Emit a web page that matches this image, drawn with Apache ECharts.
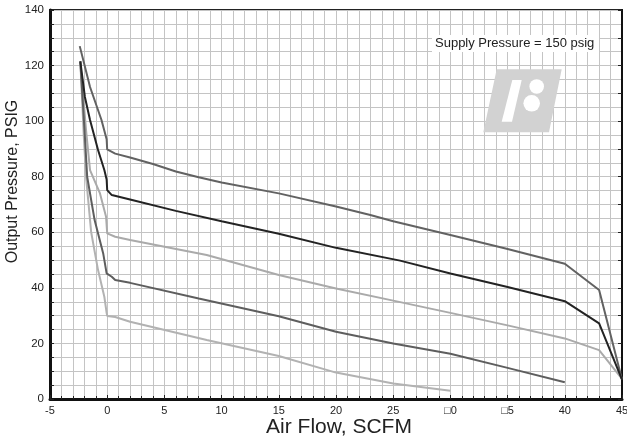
<!DOCTYPE html>
<html>
<head>
<meta charset="utf-8">
<script src="https://cdn.jsdelivr.net/npm/echarts@6/dist/echarts.min.js"></script>
<style>html,body{margin:0;padding:0;background:#fff;}#c{width:627px;height:440px;}</style>
</head>
<body>
<div id="c"></div>
<script>
// Tick labels (as printed in the reference)
var xTickValues = [-5, 0, 5, 10, 15, 20, 25, 30, 35, 40, 45];
var xTickLabels = ['-5', '0', '5', '10', '15', '20', '25', '\u25A10', '\u25A15', '40', '45'];
var yTickLabels = ['0', '20', '40', '60', '80', '100', '120', '140'];

// Curves: [air flow SCFM, output pressure PSIG]
var curve90 = [[-2.4,127],[-1.5,112.3],[-0.5,100.4],[-0.05,93.5],[0,89.8],[0.7,88.3],[2,86.9],[4,84.6],[6,81.9],[8,79.8],[10,77.9],[15,74],[20,69.3],[23,66.2],[25,64],[30,59],[35,54],[40,48.7],[43,39.2],[45,7]];
var curve75 = [[-2.35,121.5],[-1.95,108.7],[-1.5,100.4],[-0.8,89.6],[-0.25,82.4],[-0.05,79],[0,75.2],[0.4,73.4],[2,71.8],[6,67.7],[10,64],[15,59.5],[20,54.4],[25.6,49.8],[30,45.2],[35,40.3],[40,35.2],[43,27.2],[45,7]];
var curve60 = [[-2.35,121.5],[-1.85,96.8],[-1.5,82.4],[-0.63,74],[-0.1,65.6],[0,59.6],[0.7,58.4],[2,57.2],[8.7,51.8],[15,44.6],[20,39.8],[25,35.4],[30,31],[35,26.5],[40,21.8],[43,17.6],[45,7.2]];
var curve45 = [[-2.35,121.5],[-2.0,98],[-1.75,80],[-1.1,64.4],[-0.35,52.4],[-0.05,45.2],[0,44.6],[0.4,44],[0.7,42.8],[2,41.8],[8,36.2],[15,29.8],[20,24.2],[25,20],[30,16.3],[35,11.2],[40,6]];
var curve30 = [[-2.35,121.5],[-2.05,95],[-1.85,80],[-1.4,60],[-0.8,46.4],[-0.25,36.8],[-0.05,31],[0,29.9],[0.7,29.5],[2,27.8],[8.7,21.2],[15,15.5],[20,9.5],[25,5.6],[30,3]];

var chart = echarts.init(document.getElementById('c'), null, {renderer: 'canvas'});
var fontFam = '"Liberation Sans", Arial, sans-serif';

function line(name, data, color, z) {
  return {
    name: name, type: 'line', data: data, showSymbol: false, symbol: 'none',
    lineStyle: {color: color, width: 2}, z: z, silent: true, animation: false
  };
}

chart.setOption({
  animation: false,
  grid: {left: 50, right: 5, top: 10, bottom: 41, containLabel: false, outerBoundsMode: 'none',
         show: true, borderColor: '#222', borderWidth: 2, backgroundColor: 'transparent'},
  xAxis: [{
    type: 'value', min: -5, max: 45, interval: 5,
    axisLine: {show: true, onZero: false, lineStyle: {color: '#111', width: 3}},
    axisTick: {show: true, inside: true, length: 4, lineStyle: {color: '#222'}},
    minorTick: {show: true, splitNumber: 5, length: 3, lineStyle: {color: '#222'}},
    splitLine: {show: true, lineStyle: {color: '#c4c4c4', width: 1}},
    minorSplitLine: {show: true, lineStyle: {color: '#c4c4c4', width: 1}},
    axisLabel: {
      color: '#222', fontSize: 11, fontFamily: fontFam, margin: 6, hideOverlap: false,
      formatter: function (v) { var i = xTickValues.indexOf(v); return i >= 0 ? xTickLabels[i] : ''; }
    }
  }],
  yAxis: [{
    type: 'value', min: 0, max: 140, interval: 20,
    axisLine: {show: true, onZero: false, lineStyle: {color: '#111', width: 3}},
    axisTick: {show: true, inside: true, length: 4, lineStyle: {color: '#222'}},
    minorTick: {show: true, splitNumber: 4, length: 4, lineStyle: {color: '#222'}},
    splitLine: {show: true, lineStyle: {color: '#c4c4c4', width: 1}},
    minorSplitLine: {show: true, lineStyle: {color: '#c4c4c4', width: 1}},
    axisLabel: {
      color: '#222', fontSize: 11.5, fontFamily: fontFam, margin: 6,
      formatter: function (v) { return yTickLabels[Math.round(v / 20)] || ''; }
    }
  }, {
    type: 'value', min: 0, max: 140, interval: 10, position: 'right',
    axisLine: {show: true, onZero: false, lineStyle: {color: '#111', width: 2}},
    axisTick: {show: true, inside: true, length: 4, lineStyle: {color: '#222'}},
    splitLine: {show: false}, axisLabel: {show: false}
  }],
  series: [
    line('30', curve30, '#b2b2b2', 2),
    line('60', curve60, '#aaaaaa', 3),
    line('45', curve45, '#5e5e5e', 4),
    line('90', curve90, '#626262', 5),
    line('75', curve75, '#232323', 6)
  ],
  graphic: [
    {type: 'polygon', z: 1, silent: true,
     shape: {points: [[496.7,69.3],[561.7,69.3],[549,132.3],[483.3,132.3]]},
     style: {fill: '#d2d2d2'}},
    {type: 'polygon', z: 2, silent: true,
     shape: {points: [[512.3,80],[521.7,80],[512,121.7],[501.7,121.7]]},
     style: {fill: '#ffffff'}},
    {type: 'circle', z: 2, silent: true, shape: {cx: 536.7, cy: 86.5, r: 7.3}, style: {fill: '#ffffff'}},
    {type: 'circle', z: 2, silent: true, shape: {cx: 531.7, cy: 103.3, r: 8.3}, style: {fill: '#ffffff'}},
    {type: 'rect', z: 2, silent: true, shape: {x: 432, y: 35, width: 167, height: 17}, style: {fill: '#ffffff'}},
    {type: 'text', z: 3, silent: true, x: 435, y: 43.5,
     style: {text: 'Supply Pressure = 150 psig', fill: '#222', fontSize: 13, fontFamily: fontFam,
             textAlign: 'left', textVerticalAlign: 'middle'}},
    {type: 'text', z: 3, silent: true, x: 13, y: 181.5, rotation: Math.PI / 2,
     style: {text: 'Output Pressure, PSIG', fill: '#222', fontSize: 16, fontFamily: fontFam,
             textAlign: 'center', textVerticalAlign: 'middle'}},
    {type: 'text', z: 3, silent: true, x: 339, y: 427, 
     style: {text: 'Air Flow, SCFM', fill: '#222', fontSize: 21, fontFamily: fontFam,
             textAlign: 'center', textVerticalAlign: 'middle'}}
  ]
});
</script>
</body>
</html>
